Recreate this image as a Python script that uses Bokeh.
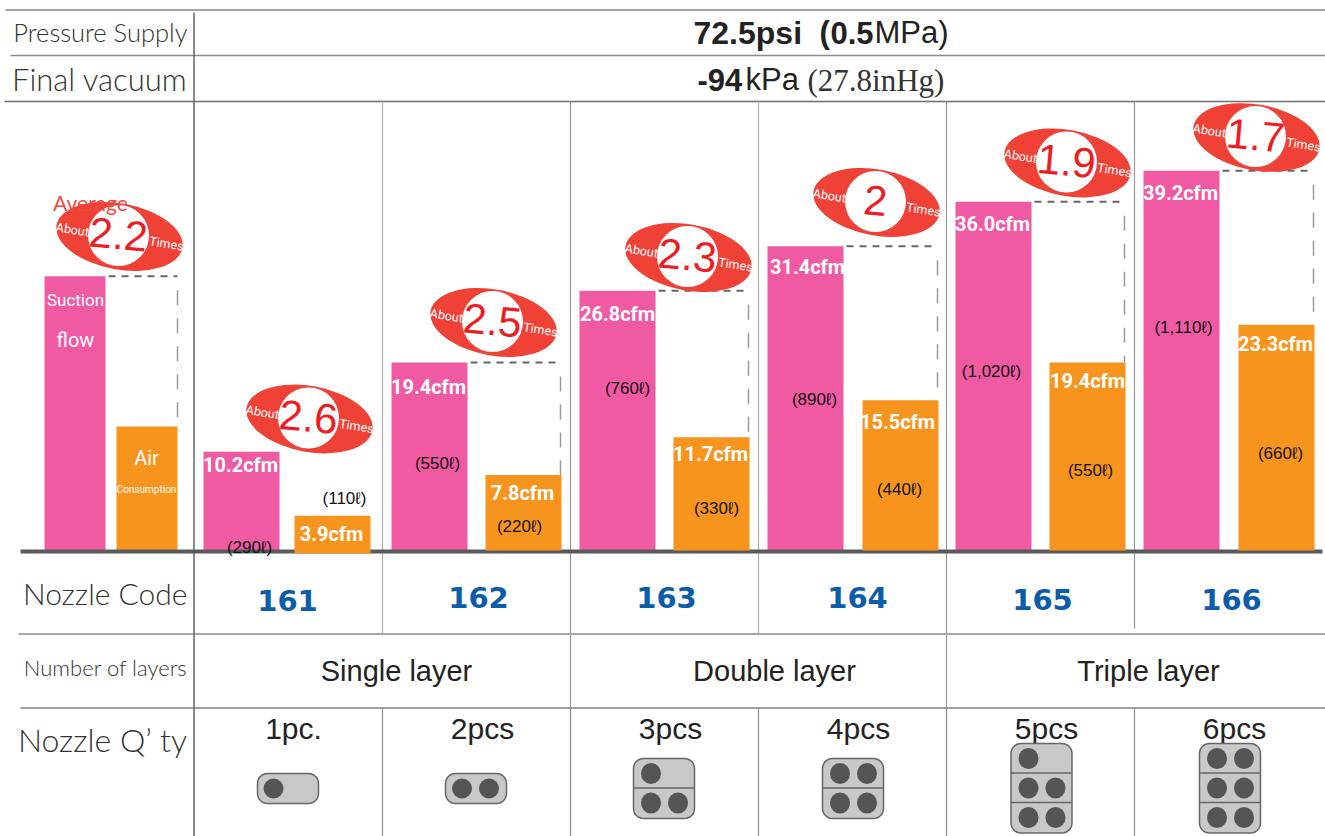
from bokeh.plotting import figure
from bokeh.models import Range1d, ColumnDataSource
from bokeh.core.properties import value
from bokeh.embed import file_html
from bokeh.resources import INLINE
import numpy as np

# ---------- data ----------
nozzle_codes = ["161", "162", "163", "164", "165", "166"]
suction_cfm = [10.2, 19.4, 26.8, 31.4, 36.0, 39.2]
air_cfm = [3.9, 7.8, 11.7, 15.5, 19.4, 23.3]
suction_litres = ["(290ℓ)", "(550ℓ)", "(760ℓ)", "(890ℓ)", "(1,020ℓ)", "(1,110ℓ)"]
air_litres = ["(110ℓ)", "(220ℓ)", "(330ℓ)", "(440ℓ)", "(550ℓ)", "(660ℓ)"]
ratios = ["2.6", "2.5", "2.3", "2", "1.9", "1.7"]
average_suction = 28.3
average_air = 12.8
average_ratio = "2.2"
layers = ["Single layer", "Double layer", "Triple layer"]
qty_labels = ["1pc.", "2pcs", "3pcs", "4pcs", "5pcs", "6pcs"]
qty_rows = [[1], [2], [1, 2], [2, 2], [1, 2, 2], [2, 2, 2]]

# ---------- layout (reference pixels) ----------
W, H = 1325, 836
PX_PER_CFM = 9.69
BASE = 550
PINK, ORANGE, RED, NUMRED = "#F05AA3", "#F7941E", "#EF4136", "#ED1C24"
HUMAN = "Lato Light, Lato"
SANS = "Liberation Sans"
COND = "Roboto"

p = figure(width=W, height=H, output_backend="svg", toolbar_location=None,
           x_axis_location=None, y_axis_location=None, min_border=0,
           x_range=Range1d(0, W),
           y_range=Range1d((BASE - H) / PX_PER_CFM, BASE / PX_PER_CFM),
           outline_line_color=None, background_fill_color="white")
p.grid.visible = False
p.extra_y_ranges = {"px": Range1d(H, 0)}


def hline(y, x0, x1, color, w):
    p.segment([x0], [y], [x1], [y], line_color=color, line_width=w, y_range_name="px")


def vline(x, y0, y1, color, w):
    p.segment([x], [y0], [x], [y1], line_color=color, line_width=w, y_range_name="px")


def txt(x, y, s, size, color="#222222", font=SANS, style="normal", align="center", angle=0.0):
    p.text([x], [y], text=[s], text_font=value(font), text_font_size=f"{size}px",
           text_font_style=style, text_color=color, text_align=align,
           text_baseline="middle", angle=angle, y_range_name="px")


# table rules
hline(9.5, 5, 1325, "#a3a3a3", 2)
hline(55, 10, 1325, "#8c8c8c", 1.5)
hline(101, 4, 1325, "#6e6e6e", 1.5)
hline(633.5, 18, 1325, "#8c8c8c", 1.5)
hline(707.5, 20, 1325, "#808080", 1.5)
vline(193.5, 12, 836, "#666666", 1.5)
for x, end in zip([382, 570, 758, 946, 1134], [633, 707, 633, 707, 628]):
    vline(x, 101, end, "#b0b0b0" if x in (382, 758) else "#9a9a9a", 1.2)
    vline(x, 707, 836, "#8c8c8c", 1.2)

# bars
pink_left = [203, 391, 579, 767, 955, 1143]
orange_left = [294, 485, 673, 862, 1049, 1238]
BW = 76
pink_src = ColumnDataSource(dict(x=[l + BW / 2 for l in pink_left], top=suction_cfm))
orange_bottom = [-3 / PX_PER_CFM] + [0] * 5
orange_top = [v + b for v, b in zip(air_cfm, orange_bottom)]
p.vbar(x=[74.5], top=[average_suction], bottom=0, width=61, fill_color=PINK, line_color=None)
p.vbar(x=[146.5], top=[average_air], bottom=0, width=61, fill_color=ORANGE, line_color=None)
p.vbar(x="x", top="top", bottom=0, width=BW, source=pink_src, fill_color=PINK, line_color=None)

# baseline, then the orange bars of the nozzles over it
hline(551, 20, 1322, "#5a5a5a", 4)
p.vbar(x=[l + BW / 2 for l in orange_left[1:]], top=orange_top[1:], bottom=0, width=BW,
       fill_color=ORANGE, line_color=None)
p.vbar(x=[orange_left[0] + BW / 2], top=[orange_top[0]], bottom=[orange_bottom[0]], width=BW,
       fill_color=ORANGE, line_color=None)

# dashed comparison guides (the first nozzle has none in the source)
guide_x0 = [108] + [l + BW + 3 for l in pink_left[1:]]
guide_x1 = [177] + [l + BW - 1 for l in orange_left[1:]]
guide_top = [average_suction] + suction_cfm[1:]
guide_bot = [average_air] + orange_top[1:]
guide_start = [t - 14 / PX_PER_CFM for t in guide_top]
p.segment(guide_x0, guide_top, guide_x1, guide_top, line_color="#666666", line_width=2, line_dash="7 6")
p.segment(guide_x1, guide_start, guide_x1, guide_bot, line_color="#9a9a9a", line_width=1.5, line_dash="15 13")

# badges
badge_cx = [119, 309, 493, 688, 876, 1067, 1256]
badge_cy = [236, 418.5, 322, 257, 202, 162.5, 137]
badge_txt = [average_ratio] + ratios
p.ellipse(badge_cx, badge_cy, width=128, height=66, angle=-0.18, fill_color=RED, line_color=None,
          y_range_name="px")
p.ellipse([c - 1 for c in badge_cx], [c - 1 for c in badge_cy], width=61, height=61,
          fill_color="white", line_color=None, y_range_name="px")
for cx, cy, s in zip(badge_cx, badge_cy, badge_txt):
    txt(cx - 1, cy - 2, s, 42, NUMRED, SANS, angle=-0.09)
    txt(cx - 47, cy - 7, "About", 12.5, "white", COND, angle=-0.16)
    txt(cx + 47, cy + 7, "Times", 12.5, "white", COND, angle=-0.16)
txt(90, 201.5, "Average", 21, "#F04A3E", "Lato")

# bar labels
s_lab = [(240, 464), (428, 386), (617, 313), (807, 266), (992, 223), (1180, 192)]
a_lab = [(331, 533), (522, 492), (710, 453), (897, 421), (1087, 380), (1275, 343)]
for (x, y), v in zip(s_lab, suction_cfm):
    txt(x, y, f"{v:.1f}cfm", 20, "white", COND, "bold")
for (x, y), v in zip(a_lab, air_cfm):
    txt(x, y, f"{v:.1f}cfm", 20, "white", COND, "bold")
s_lit = [(249, 547), (437, 463), (627, 388), (814, 399), (991, 371), (1183, 327)]
a_lit = [(344, 498), (519, 526), (716, 508), (899, 489), (1090, 470), (1280, 453)]
for (x, y), s in zip(s_lit, suction_litres):
    txt(x, y, s, 17, "#111111")
for (x, y), s in zip(a_lit, air_litres):
    txt(x, y, s, 17, "#111111")
txt(75, 299, "Suction", 17, "white", COND)
txt(75, 339, "flow", 20, "white", COND)
txt(146, 457, "Air", 20, "white", COND)
txt(146, 489, "Consumption", 10, "white", COND)

# header
txt(693, 32, "72.5psi", 32, "#222222", SANS, "bold", "left")
txt(819, 32, "(", 31, "#222222", SANS, "bold", "left")
txt(830, 32, "0.5", 31, "#222222", SANS, "bold", "left")
txt(874, 32, "MPa)", 31, "#222222", SANS, "normal", "left")
txt(697, 79, "-94", 31, "#222222", SANS, "bold", "left")
txt(745, 79, "kPa", 31, "#222222", SANS, "normal", "left")
txt(807, 80, "(27.8inHg)", 31, "#333333", "Liberation Serif", "normal", "left")

# row titles
for y, s, size in [(31, "Pressure Supply", 25.5), (78, "Final vacuum", 31), (592, "Nozzle Code", 30),
                   (667, "Number of layers", 22), (739, "Nozzle Q’ ty", 32)]:
    txt(187, y, s, size, "#333333", HUMAN, align="right")

# nozzle codes
for x, y, s in zip([287, 478, 666, 857, 1042, 1231], [600, 597, 597, 597, 599, 599], nozzle_codes):
    txt(x, y, s, 29, "#0B5CAB", "DejaVu Sans", "bold")

# layers
for x, s in zip([396, 774, 1148], layers):
    txt(x, 670, s, 29, "#222222")

# quantity
qty_x = [293, 482, 670, 858, 1046, 1234]
for x, s in zip(qty_x, qty_labels):
    txt(x, 728, s, 30, "#222222")


def rounded(x0, y0, x1, y1, r):
    a = np.linspace(0, np.pi / 2, 8)
    xs = np.concatenate([x1 - r + r * np.sin(a), x1 - r + r * np.cos(a), x0 + r - r * np.sin(a), x0 + r - r * np.cos(a)])
    ys = np.concatenate([y0 + r - r * np.cos(a), y1 - r + r * np.sin(a), y1 - r + r * np.cos(a), y0 + r - r * np.sin(a)])
    return xs, ys


icon_x0 = [257, 445, 633, 822, 1010.5, 1199]
icon_w = [61, 61, 61, 61, 61, 61]
icon_y0 = [773, 773, 758, 758, 743, 743]
ROW_H = 29.5
for i, rows in enumerate(qty_rows):
    x0, y0, w = icon_x0[i], icon_y0[i], icon_w[i]
    h = 30 if len(rows) == 1 else ROW_H * len(rows) + 1
    xs, ys = rounded(x0, y0, x0 + w, y0 + h, 10)
    p.patch(xs, ys, fill_color="#c8c8c8", line_color="#666666", line_width=1.5, y_range_name="px")
    if len(rows) == 1:
        offs = [16] if rows[0] == 1 else [16.5, 43.5]
        for o in offs:
            p.ellipse([x0 + o], [y0 + 15], width=20, height=20, fill_color="#555555", line_color=None, y_range_name="px")
        continue
    for r, n in enumerate(rows):
        cy = y0 + 15 + ROW_H * r
        if r:
            hline(y0 + ROW_H * r, x0, x0 + w, "#666666", 1.5)
        for o in [17.5, 44.5][:n]:
            p.ellipse([x0 + o], [cy], width=20, height=21, fill_color="#555555", line_color=None, y_range_name="px")

open("out.html", "w").write(file_html(p, INLINE))
